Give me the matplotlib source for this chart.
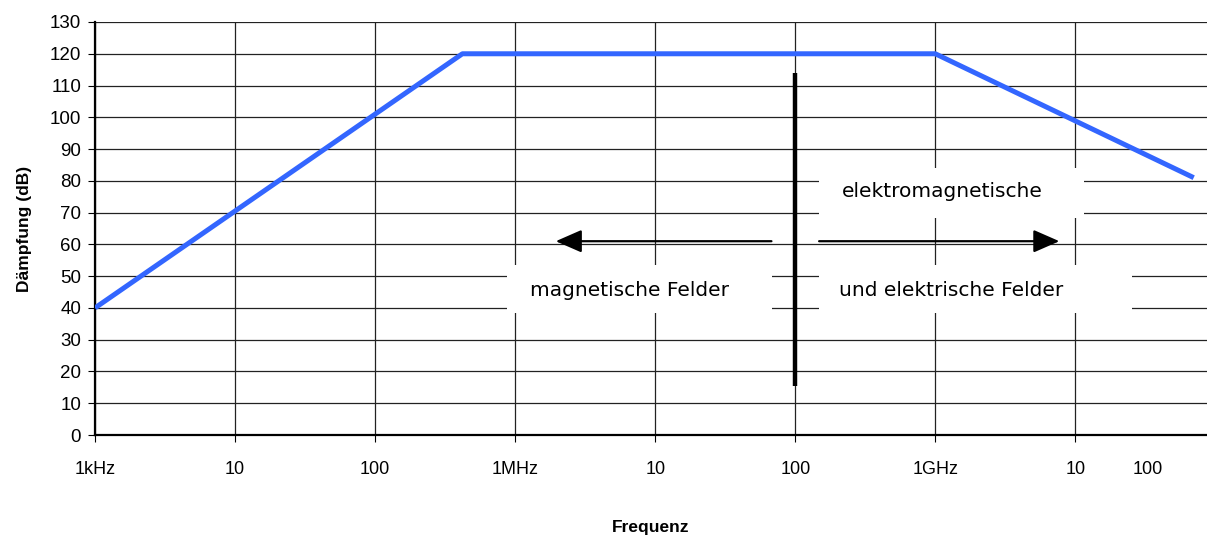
import matplotlib
matplotlib.use("Agg")
import matplotlib.pyplot as plt
import matplotlib.transforms as mtransforms
from matplotlib.patches import Rectangle

# Attenuation curve (frequency in Hz, attenuation in dB)
freq = [1e3, 420e3, 1e9, 70e9]
daempfung = [40, 120, 120, 81]

tick_freqs = [1e3, 1e4, 1e5, 1e6, 1e7, 1e8, 1e9, 1e10]
tick_labels = ["1kHz", "10", "100", "1MHz", "10", "100", "1GHz", "10"]
last_label = "100"
y_ticks = list(range(0, 131, 10))

plt.rcParams['font.family'] = ['Liberation Sans', 'DejaVu Sans']

fig = plt.figure(figsize=(12.07, 5.35), dpi=100)
ax = fig.add_axes([95 / 1207, 100 / 535, 1 - 95 / 1207, 413 / 535])

ax.set_xscale("log")
ax.set_xticks(tick_freqs)
ax.set_xticklabels(tick_labels)
ax.minorticks_off()
ax.set_yticks(y_ticks)
ax.set_xlim(1e3, 1e3 * 10 ** 7.94)
ax.set_ylim(0, 130)

ax.grid(True, color="#222222", linewidth=0.9)
for s in ["top", "right"]:
    ax.spines[s].set_visible(False)
for s in ["left", "bottom"]:
    ax.spines[s].set_linewidth(1.6)
ax.tick_params(axis="x", length=5, pad=14, labelsize=13)
ax.tick_params(axis="y", length=5, pad=5, labelsize=13.5)

# label for the last (unticked) decade, placed like the tick labels
off = mtransforms.ScaledTranslation(0, -19 / 72, fig.dpi_scale_trans)
ax.text(3.3e10, 0, last_label, transform=ax.get_xaxis_transform() + off,
        ha="center", va="top", fontsize=13)

ax.plot(freq, daempfung, color="#3366FF", linewidth=3.6, solid_capstyle="butt", zorder=4)

# Boundary between the two field regions
ax.plot([1e8, 1e8], [15.5, 113.8], color="black", linewidth=3.2, solid_capstyle="butt", zorder=4)

# White label boxes covering the grid
boxes = [
    (1.48e8, 68.3, 1.16e10, 84.0),
    (8.77e5, 38.4, 6.85e7, 53.5),
    (1.48e8, 38.4, 2.55e10, 53.5),
]
for x0, y0, x1, y1 in boxes:
    ax.add_patch(Rectangle((x0, y0), x1 - x0, y1 - y0, facecolor="white",
                           edgecolor="none", zorder=2))

txt = dict(ha="center", va="center", fontsize=14.5, family=["DejaVu Sans"], zorder=5)
ax.text(1.12e9, 76.8, "elektromagnetische", **txt)
ax.text(6.52e6, 45.6, "magnetische Felder", **txt)
ax.text(1.3e9, 45.6, "und elektrische Felder", **txt)

arrow = dict(arrowstyle="-|>,head_length=0.8,head_width=0.35", color="black",
             linewidth=1.6, mutation_scale=20, shrinkA=0, shrinkB=0)
ax.annotate("", xy=(1.95e6, 61), xytext=(67.6e6, 61), arrowprops=arrow, zorder=5)
ax.annotate("", xy=(7.69e9, 61), xytext=(148e6, 61), arrowprops=arrow, zorder=5)

ax.set_ylabel("Dämpfung (dB)", fontsize=12.5, fontweight="bold", labelpad=13)
ax.set_xlabel("Frequenz", fontsize=12.5, fontweight="bold", labelpad=30)

fig.savefig("out.png", dpi=100)
